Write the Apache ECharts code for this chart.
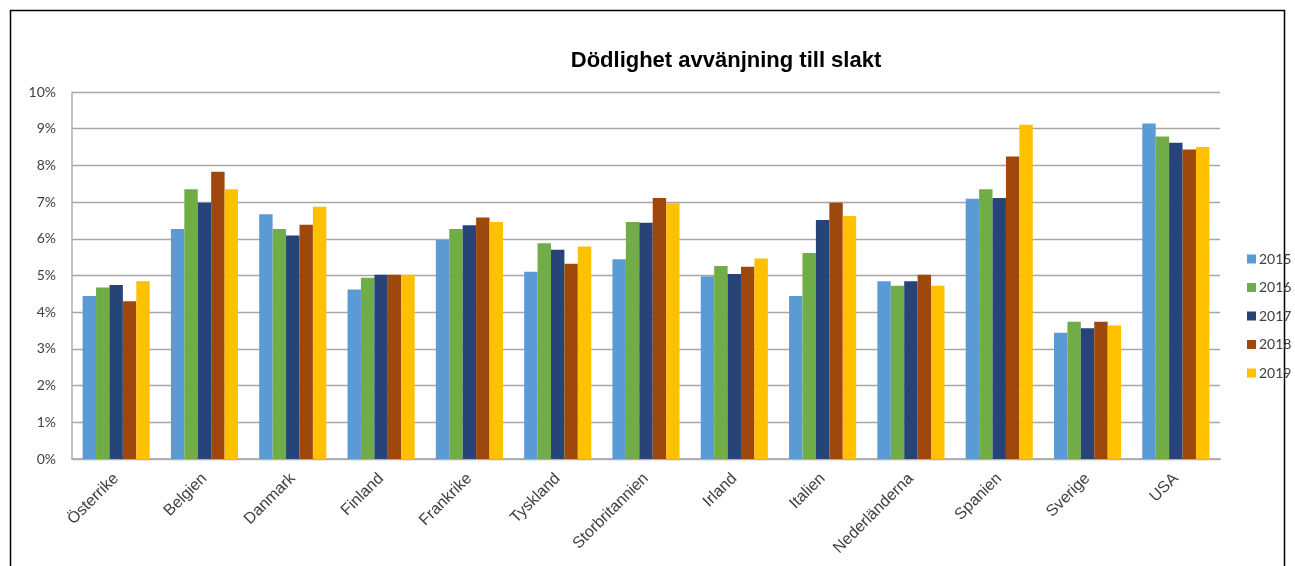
<!DOCTYPE html>
<html>
<head>
<meta charset="utf-8">
<script src="https://cdn.jsdelivr.net/npm/echarts@6/dist/echarts.min.js"></script>
<style>
html,body{margin:0;padding:0;background:#fff;}
#chart{width:1295px;height:566px;}
</style>
</head>
<body>
<div id="chart"></div>
<script>
const title = 'Dödlighet avvänjning till slakt';
const categories = ['Österrike','Belgien','Danmark','Finland','Frankrike','Tyskland','Storbritannien','Irland','Italien','Nederländerna','Spanien','Sverige','USA'];
const years = ['2015','2016','2017','2018','2019'];
const colors = ['#5B9BD5','#70AD47','#264478','#9E480E','#FFC000'];
const v2015 = [4.44, 6.27, 6.67, 4.62, 5.97, 5.10, 5.44, 4.98, 4.44, 4.84, 7.09, 3.44, 9.14];
const v2016 = [4.67, 7.35, 6.27, 4.94, 6.27, 5.88, 6.46, 5.26, 5.61, 4.72, 7.35, 3.74, 8.79];
const v2017 = [4.74, 6.98, 6.09, 5.02, 6.37, 5.70, 6.44, 5.04, 6.51, 4.84, 7.11, 3.56, 8.62];
const v2018 = [4.30, 7.83, 6.38, 5.02, 6.58, 5.32, 7.11, 5.24, 6.98, 5.02, 8.24, 3.74, 8.43];
const v2019 = [4.84, 7.35, 6.87, 5.02, 6.46, 5.79, 6.97, 5.46, 6.62, 4.72, 9.11, 3.64, 8.50];
const seriesValues = [v2015, v2016, v2017, v2018, v2019];

const chart = echarts.init(document.getElementById('chart'), null, {renderer:'canvas'});
chart.setOption({
  animation: false,
  backgroundColor: '#ffffff',
  color: colors,
  title: {
    text: title,
    left: 721, top: 45,
    textAlign: 'center',
    textStyle: {fontFamily: 'Liberation Sans', fontWeight: 'bold', fontSize: 22, color: '#000'}
  },
  graphic: [{
    type: 'rect', silent: true,
    shape: {x: 10.5, y: 10.5, width: 1274, height: 620},
    style: {fill: 'none', stroke: '#000', lineWidth: 1.5}
  }],
  legend: {
    orient: 'vertical',
    left: 1242, top: 246,
    itemWidth: 9, itemHeight: 9,
    itemGap: 12.5,
    icon: 'rect',
    textStyle: {fontFamily: 'Lato', fontSize: 14, color: '#404040', lineHeight: 16, padding: [0,0,0,-2]},
    data: years
  },
  grid: {left: 72, right: 75, top: 92, bottom: 107},
  xAxis: {
    type: 'category',
    data: categories,
    axisLine: {lineStyle: {color: '#b0b0b0', width: 2}},
    axisTick: {show: false},
    axisLabel: {interval: 0, rotate: 45, margin: 17, fontFamily: 'Liberation Sans', fontSize: 16, color: '#404040'}
  },
  yAxis: {
    type: 'value',
    min: 0, max: 10, interval: 1,
    axisLine: {show: true, lineStyle: {color: '#b0b0b0', width: 1.5}},
    axisTick: {show: false},
    axisLabel: {margin: 16, fontFamily: 'Lato', fontSize: 14, color: '#404040', formatter: v => v + '%'},
    splitLine: {lineStyle: {color: '#a6a6a6', width: 1.3}}
  },
  series: years.map((y, i) => ({
    name: y,
    type: 'bar',
    data: seriesValues[i],
    barGap: '0%',
    barCategoryGap: '24%'
  }))
});
</script>
</body>
</html>
